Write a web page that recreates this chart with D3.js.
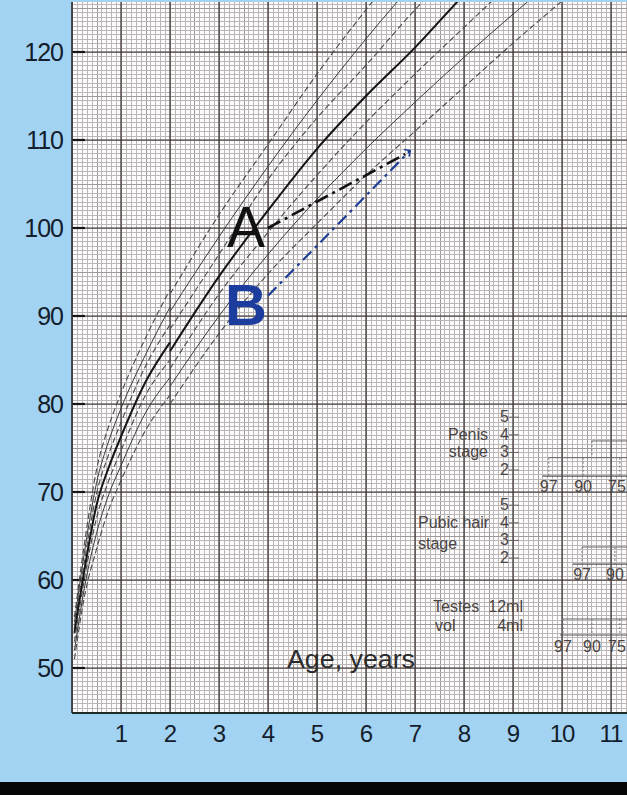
<!DOCTYPE html>
<html>
<head>
<meta charset="utf-8">
<script src="https://cdn.jsdelivr.net/npm/d3@7"></script>
<style>
  body { margin: 0; background: #000; }
  svg { display: block; }
</style>
</head>
<body>
<svg width="627" height="795"></svg>
<script>
// ---- data ----
// length section, birth to 2 years
var agesLength = [0.05, 0.25, 0.5, 0.75, 1, 1.5, 2];
var length97 = [55.8, 64, 72.5, 77.5, 81.2, 87.5, 93];
var length90 = [55.2, 63, 71, 75.8, 79.5, 85.6, 91];
var length75 = [54.6, 62, 69.8, 74.3, 77.9, 84.3, 89];
var length50 = [54, 61, 68.5, 72.8, 76.3, 82.5, 87];
var length25 = [53, 60, 67, 71.3, 74.7, 81, 85];
var length10 = [52, 59, 65.3, 69.7, 73, 79, 83];
var length3  = [51, 58, 63.5, 68, 71.3, 77, 81];

// height section, 2 years on
var agesHeight = [2, 3, 4, 5, 6, 7, 8, 9, 10, 11];
var height97 = [92.5, 101.5, 109.5, 117.5, 124.8, 131.5, 137.5];
var height90 = [90.5, 99, 107, 114.5, 121.5, 128, 134];
var height75 = [88.5, 97, 105.5, 112.5, 118.5, 124.8, 130.5];
var height50 = [86, 94.5, 102, 109, 115, 120.5, 126.5, 132];
var height25 = [84, 92.5, 99.5, 106, 112, 117.5, 122.8, 128];
var height10 = [82, 90, 97, 103.3, 109, 114.3, 119.4, 124.3, 129];
var height3  = [80, 88, 94.8, 100.5, 106, 111, 116, 121, 125.8, 130.5];

var centiles = ["97", "90", "75", "50", "25", "10", "3"];

// two children plotted on the chart: [age, height]
var childA = [[4.0, 100], [6.8, 108.4]];
var childB = [[4.0, 92.3], [6.9, 108.8]];

var yTicks = [50, 60, 70, 80, 90, 100, 110, 120];
var xTicks = [1, 2, 3, 4, 5, 6, 7, 8, 9, 10, 11];

// puberty panel
var penisStages = [5, 4, 3, 2];
var pubicStages = [5, 4, 3, 2];
var penisCentiles = [["97", 9.73], ["90", 10.43], ["75", 11.18]];
var pubicCentiles = [["97", 10.41], ["90", 11.08]];
var testesCentiles = [["97", 10.02], ["90", 10.61], ["75", 11.18]];

// ---- layout ----
var svg = d3.select("svg");
var W = 627, H = 795;
var plot = { left: 72, top: 2, right: 627, bottom: 713 };

var x = d3.scaleLinear().domain([0, 11]).range([72, 611]);
var y = d3.scaleLinear().domain([50, 120]).range([668, 52]);

svg.append("rect").attr("width", W).attr("height", H).attr("fill", "#a3d3f3");
svg.append("rect").attr("y", 782).attr("width", W).attr("height", H - 782).attr("fill", "#050505");

svg.append("clipPath").attr("id", "clip")
  .append("rect")
  .attr("x", plot.left).attr("y", plot.top)
  .attr("width", plot.right - plot.left).attr("height", plot.bottom - plot.top);

var g = svg.append("g").attr("clip-path", "url(#clip)");
g.append("rect")
  .attr("x", plot.left).attr("y", plot.top)
  .attr("width", plot.right - plot.left).attr("height", plot.bottom - plot.top)
  .attr("fill", "#fdfcfc");

// graph paper
var minorX = d3.range(0, 11.45, 0.1);
var minorY = d3.range(44.5, 126.1, 0.5);
g.selectAll(".vminor").data(minorX).enter().append("line")
  .attr("x1", function(d) { return Math.round(x(d)) + 0.5; })
  .attr("x2", function(d) { return Math.round(x(d)) + 0.5; })
  .attr("y1", plot.top).attr("y2", plot.bottom)
  .attr("stroke", function(d) { return Math.abs(d * 2 - Math.round(d * 2)) < 0.01 ? "#a09898" : "#bdb6b6"; })
  .attr("stroke-width", 1);
g.selectAll(".hminor").data(minorY).enter().append("line")
  .attr("x1", plot.left).attr("x2", plot.right)
  .attr("y1", function(d) { return Math.round(y(d)) + 0.5; })
  .attr("y2", function(d) { return Math.round(y(d)) + 0.5; })
  .attr("stroke", function(d) { return d % 5 === 0 ? "#a09898" : "#bdb6b6"; })
  .attr("stroke-width", 1);

// major lines, every year and every 10 cm
g.selectAll(".vmajor").data(xTicks).enter().append("line")
  .attr("x1", function(d) { return x(d); }).attr("x2", function(d) { return x(d); })
  .attr("y1", plot.top).attr("y2", plot.bottom)
  .attr("stroke", "#3a3030").attr("stroke-width", 1.2);
g.selectAll(".hmajor").data(yTicks).enter().append("line")
  .attr("x1", plot.left).attr("x2", plot.right)
  .attr("y1", function(d) { return y(d); }).attr("y2", function(d) { return y(d); })
  .attr("stroke", "#3a3030").attr("stroke-width", 1.2);
g.selectAll(".ytick").data(yTicks).enter().append("line")
  .attr("x1", plot.left).attr("x2", plot.left + 13)
  .attr("y1", function(d) { return y(d); }).attr("y2", function(d) { return y(d); })
  .attr("stroke", "#1a1414").attr("stroke-width", 2.2);

// frame
svg.append("line").attr("x1", plot.left).attr("x2", plot.left)
  .attr("y1", plot.top).attr("y2", plot.bottom).attr("stroke", "#2a2a2a").attr("stroke-width", 1.6);
svg.append("line").attr("x1", plot.left).attr("x2", plot.right)
  .attr("y1", plot.bottom).attr("y2", plot.bottom).attr("stroke", "#1e2a2a").attr("stroke-width", 2);

// centile curves
var line = d3.line()
  .x(function(d) { return x(d[0]); })
  .y(function(d) { return y(d[1]); })
  .curve(d3.curveMonotoneX);

var styles = {
  "97": { dash: "6,3", w: 1.1, c: "#4a4a4a" },
  "90": { dash: null, w: 1, c: "#3a3a3a" },
  "75": { dash: "6,3", w: 1.1, c: "#4a4a4a" },
  "50": { dash: null, w: 2, c: "#151515" },
  "25": { dash: "6,3", w: 1.1, c: "#4a4a4a" },
  "10": { dash: null, w: 1, c: "#3a3a3a" },
  "3":  { dash: "6,3", w: 1.1, c: "#4a4a4a" }
};

var lengthSeries = [length97, length90, length75, length50, length25, length10, length3];
var heightSeries = [height97, height90, height75, height50, height25, height10, height3];

function drawSet(ages, series) {
  series.forEach(function(vals, i) {
    var s = styles[centiles[i]];
    var pts = vals.map(function(v, j) { return [ages[j], v]; });
    g.append("path")
      .attr("d", line(pts))
      .attr("fill", "none")
      .attr("stroke", s.c)
      .attr("stroke-width", s.w)
      .attr("stroke-dasharray", s.dash);
  });
}
drawSet(agesLength, lengthSeries);
drawSet(agesHeight, heightSeries);

// children A and B
var straight = d3.line().x(function(d) { return x(d[0]); }).y(function(d) { return y(d[1]); });
g.append("path").attr("d", straight(childA))
  .attr("fill", "none").attr("stroke", "#111").attr("stroke-width", 2.6)
  .attr("stroke-dasharray", "14,5,3,5");
g.append("path").attr("d", straight(childB))
  .attr("fill", "none").attr("stroke", "#1f3f96").attr("stroke-width", 2.2)
  .attr("stroke-dasharray", "12,5,3,5");
var bEnd = childB[childB.length - 1];
g.append("path")
  .attr("d", "M" + (x(bEnd[0]) - 6) + "," + (y(bEnd[1]) - 1) + "L" + x(bEnd[0]) + "," + y(bEnd[1]) + "L" + (x(bEnd[0]) - 1) + "," + (y(bEnd[1]) + 6))
  .attr("fill", "none").attr("stroke", "#1f3f96").attr("stroke-width", 1.6);

svg.append("text").attr("x", x(childA[0][0]) - 41).attr("y", y(childA[0][1]) + 19)
  .attr("font-family", "Liberation Sans, Arial, sans-serif").attr("font-size", 57)
  .attr("fill", "#111").text("A");
svg.append("text").attr("x", x(childB[0][0]) - 43).attr("y", y(childB[0][1]) + 29)
  .attr("font-family", "Liberation Sans, Arial, sans-serif").attr("font-size", 58)
  .attr("font-weight", "bold").attr("fill", "#1c3d9e").text("B");

// axis labels
svg.selectAll(".ylab").data(yTicks).enter().append("text")
  .attr("x", 63).attr("y", function(d) { return y(d) + 9; })
  .attr("text-anchor", "end")
  .attr("font-family", "Liberation Sans, Arial, sans-serif").attr("font-size", 25)
  .attr("letter-spacing", -1)
  .attr("fill", "#13202c").text(function(d) { return d; });
svg.selectAll(".xlab").data(xTicks).enter().append("text")
  .attr("x", function(d) { return x(d); }).attr("y", 742)
  .attr("text-anchor", "middle")
  .attr("font-family", "Liberation Sans, Arial, sans-serif").attr("font-size", 24)
  .attr("letter-spacing", -1)
  .attr("fill", "#13202c").text(function(d) { return d; });

svg.append("text").attr("x", 287).attr("y", 668)
  .attr("font-family", "Liberation Sans, Arial, sans-serif").attr("font-size", 25)
  .attr("textLength", 128).attr("lengthAdjust", "spacingAndGlyphs")
  .attr("fill", "#2b2b2b").text("Age, years");

// ---- puberty panel ----
var narrow = "Liberation Sans Narrow, Arial Narrow, sans-serif";
var p = svg.append("g").attr("clip-path", "url(#clip)").attr("fill", "#4a4545")
  .attr("font-family", narrow).attr("font-size", 16);

function stageRows(stages, top) {
  stages.forEach(function(s, i) {
    var yy = y(top - 2 * i);
    p.append("text").attr("x", 509).attr("y", yy + 5).attr("text-anchor", "end").text(s);
    p.append("line").attr("x1", 509).attr("x2", 519).attr("y1", yy).attr("y2", yy)
      .attr("stroke", "#6a6262").attr("stroke-width", 1);
  });
}
stageRows(penisStages, 78.5);
stageRows(pubicStages, 68.5);

p.append("text").attr("x", 488).attr("y", y(76.5) + 5).attr("text-anchor", "end").text("Penis");
p.append("text").attr("x", 488).attr("y", y(74.5) + 5).attr("text-anchor", "end").text("stage");
p.append("text").attr("x", 418).attr("y", y(66.5) + 5).text("Pubic hair");
p.append("text").attr("x", 418).attr("y", y(64.1) + 5).text("stage");
p.append("text").attr("x", 433).attr("y", y(56.9) + 5).text("Testes");
p.append("text").attr("x", 523).attr("y", y(56.9) + 5).attr("text-anchor", "end").text("12ml");
p.append("text").attr("x", 435).attr("y", y(54.8) + 5).text("vol");
p.append("text").attr("x", 523).attr("y", y(54.8) + 5).attr("text-anchor", "end").text("4ml");

function bracket(cents, base, upper, baseStart, labelY) {
  p.append("line").attr("x1", x(baseStart)).attr("x2", plot.right)
    .attr("y1", y(base)).attr("y2", y(base)).attr("stroke", "#555").attr("stroke-width", 1.2);
  p.append("line").attr("x1", x(cents[0][1])).attr("x2", plot.right)
    .attr("y1", y(upper)).attr("y2", y(upper)).attr("stroke", "#666").attr("stroke-width", 1);
  cents.forEach(function(c) {
    p.append("line").attr("x1", x(c[1])).attr("x2", x(c[1]))
      .attr("y1", y(upper)).attr("y2", y(base))
      .attr("stroke", "#777").attr("stroke-width", 1).attr("stroke-dasharray", "2,2");
    p.append("text").attr("x", Math.min(x(c[1]), 617)).attr("y", y(labelY) + 5)
      .attr("text-anchor", "middle").attr("font-size", 16).text(c[0]);
  });
}
bracket(penisCentiles, 71.8, 73.9, 9.6, 70.6);
bracket(pubicCentiles, 61.8, 63.75, 10.22, 60.6);
bracket(testesCentiles, 53.75, 55.57, 9.96, 52.4);

// stage 3 step on the penis bracket
p.append("line").attr("x1", x(10.61)).attr("x2", plot.right)
  .attr("y1", y(75.8)).attr("y2", y(75.8)).attr("stroke", "#666").attr("stroke-width", 1);
p.append("line").attr("x1", x(10.61)).attr("x2", x(10.61))
  .attr("y1", y(75.8)).attr("y2", y(73.9))
  .attr("stroke", "#777").attr("stroke-width", 1).attr("stroke-dasharray", "2,2");
</script>
</body>
</html>
